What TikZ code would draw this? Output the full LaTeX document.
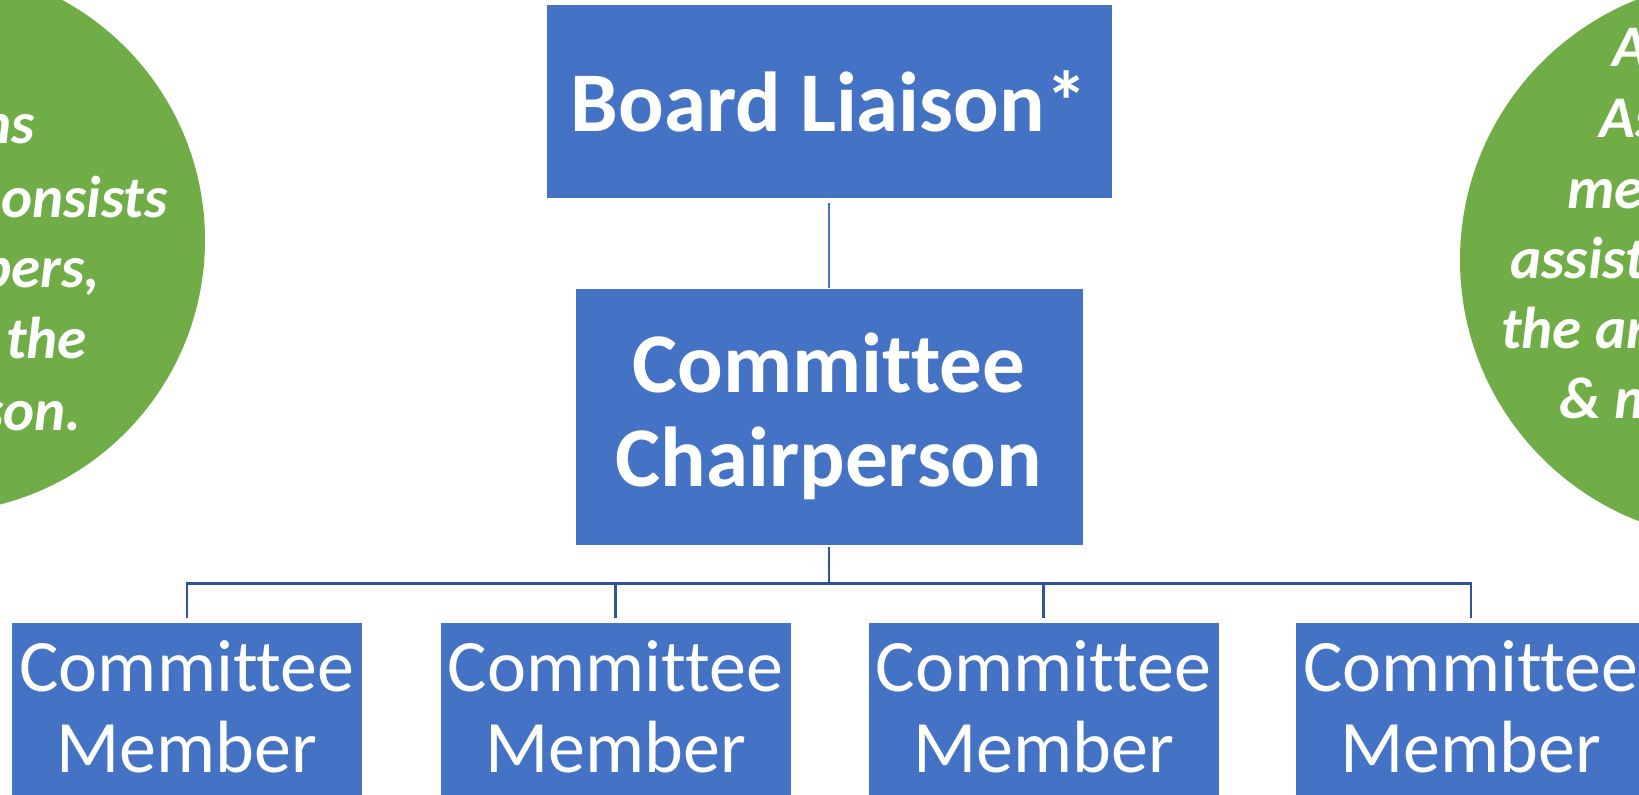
\documentclass[tikz,border=0pt]{standalone}
\usepackage{fontspec}
\setmainfont{Carlito}[Ligatures={NoCommon}]
\usetikzlibrary{positioning}
\definecolor{boxblue}{RGB}{68,114,196}
\definecolor{busblue}{RGB}{47,85,151}
\definecolor{notegreen}{RGB}{112,173,71}
\tikzset{
  rolebox/.style={fill=boxblue, draw=white, line width=0.4pt, text=white, align=center, inner sep=0pt},
  headbox/.style={rolebox, font=\fontsize{42.5}{47}\selectfont\bfseries},
  membox/.style={rolebox, anchor=north, minimum width=175.5pt, minimum height=100pt},
  memtext/.style={text=white, align=center, inner sep=0pt, font=\fontsize{37}{40.5}\selectfont},
  bubble/.style={circle, fill=notegreen, inner sep=0pt},
  notetext/.style={text=white, inner sep=0pt, font=\fontsize{29.5}{36}\selectfont\bfseries\itshape},
  thinline/.style={boxblue, line width=0.6pt},
  busline/.style={busblue, line width=1.3pt},
}
\begin{document}
\begin{tikzpicture}[x=0.5pt,y=-0.5pt]
  \fill[white, use as bounding box] (0,0) rectangle (1639,794);
  % side notes
  \node[bubble, minimum size=273pt] (leftnote) at (-68,240) {};
  \node[bubble, minimum size=280pt] (rightnote) at (1740,260) {};
  \node[notetext, anchor=base east] (l1) at (35,143) {ns};
  \node[notetext, anchor=base east] (l2) at (168,217) {onsists};
  \node[notetext, anchor=base east] (l3) at (100,287) {pers,};
  \node[notetext, anchor=base east] (l4) at (87,358) {the};
  \node[notetext, anchor=base east] (l5) at (82,430) {son.};
  \node[notetext, anchor=base west] (r1) at (1612,66) {A};
  \node[notetext, anchor=base west] (r2) at (1599,137) {As};
  \node[notetext, anchor=base west] (r3) at (1567,208) {me};
  \node[notetext, anchor=base west] (r4) at (1510,278) {assist};
  \node[notetext, anchor=base west] (r5) at (1501,348) {the ar};
  \node[notetext, anchor=base west] (r6) at (1559,418) {\& m};
  % chart
  \node[headbox, minimum width=283pt, minimum height=97pt] (board) at (829,101) {Board Liaison*};
  \node[headbox, minimum width=254pt, minimum height=128.5pt] (chair) at (829,416.5) {Committee\\Chairperson};
  \foreach \x [count=\i] in {187,615.5,1043.5,1471}{
    \node[membox] (m\i) at (\x,622) {};
    \node[memtext] (mt\i) at ([yshift=-42.5pt]m\i.north) {Committee\\Member};
  }
  \coordinate (bus) at (829,583.5);
  \draw[thinline] ([yshift=-2.5pt]board.south) -- (chair.north);
  \draw[busline] ([yshift=-1pt]chair.south) -- (bus);
  \draw[busline] ([yshift=2pt]m1.north) |- (bus) -| ([yshift=2pt]m4.north);
  \draw[busline] ([yshift=2pt]m2.north) -- (m2.north |- bus);
  \draw[busline] ([yshift=2pt]m3.north) -- (m3.north |- bus);
\end{tikzpicture}
\end{document}
